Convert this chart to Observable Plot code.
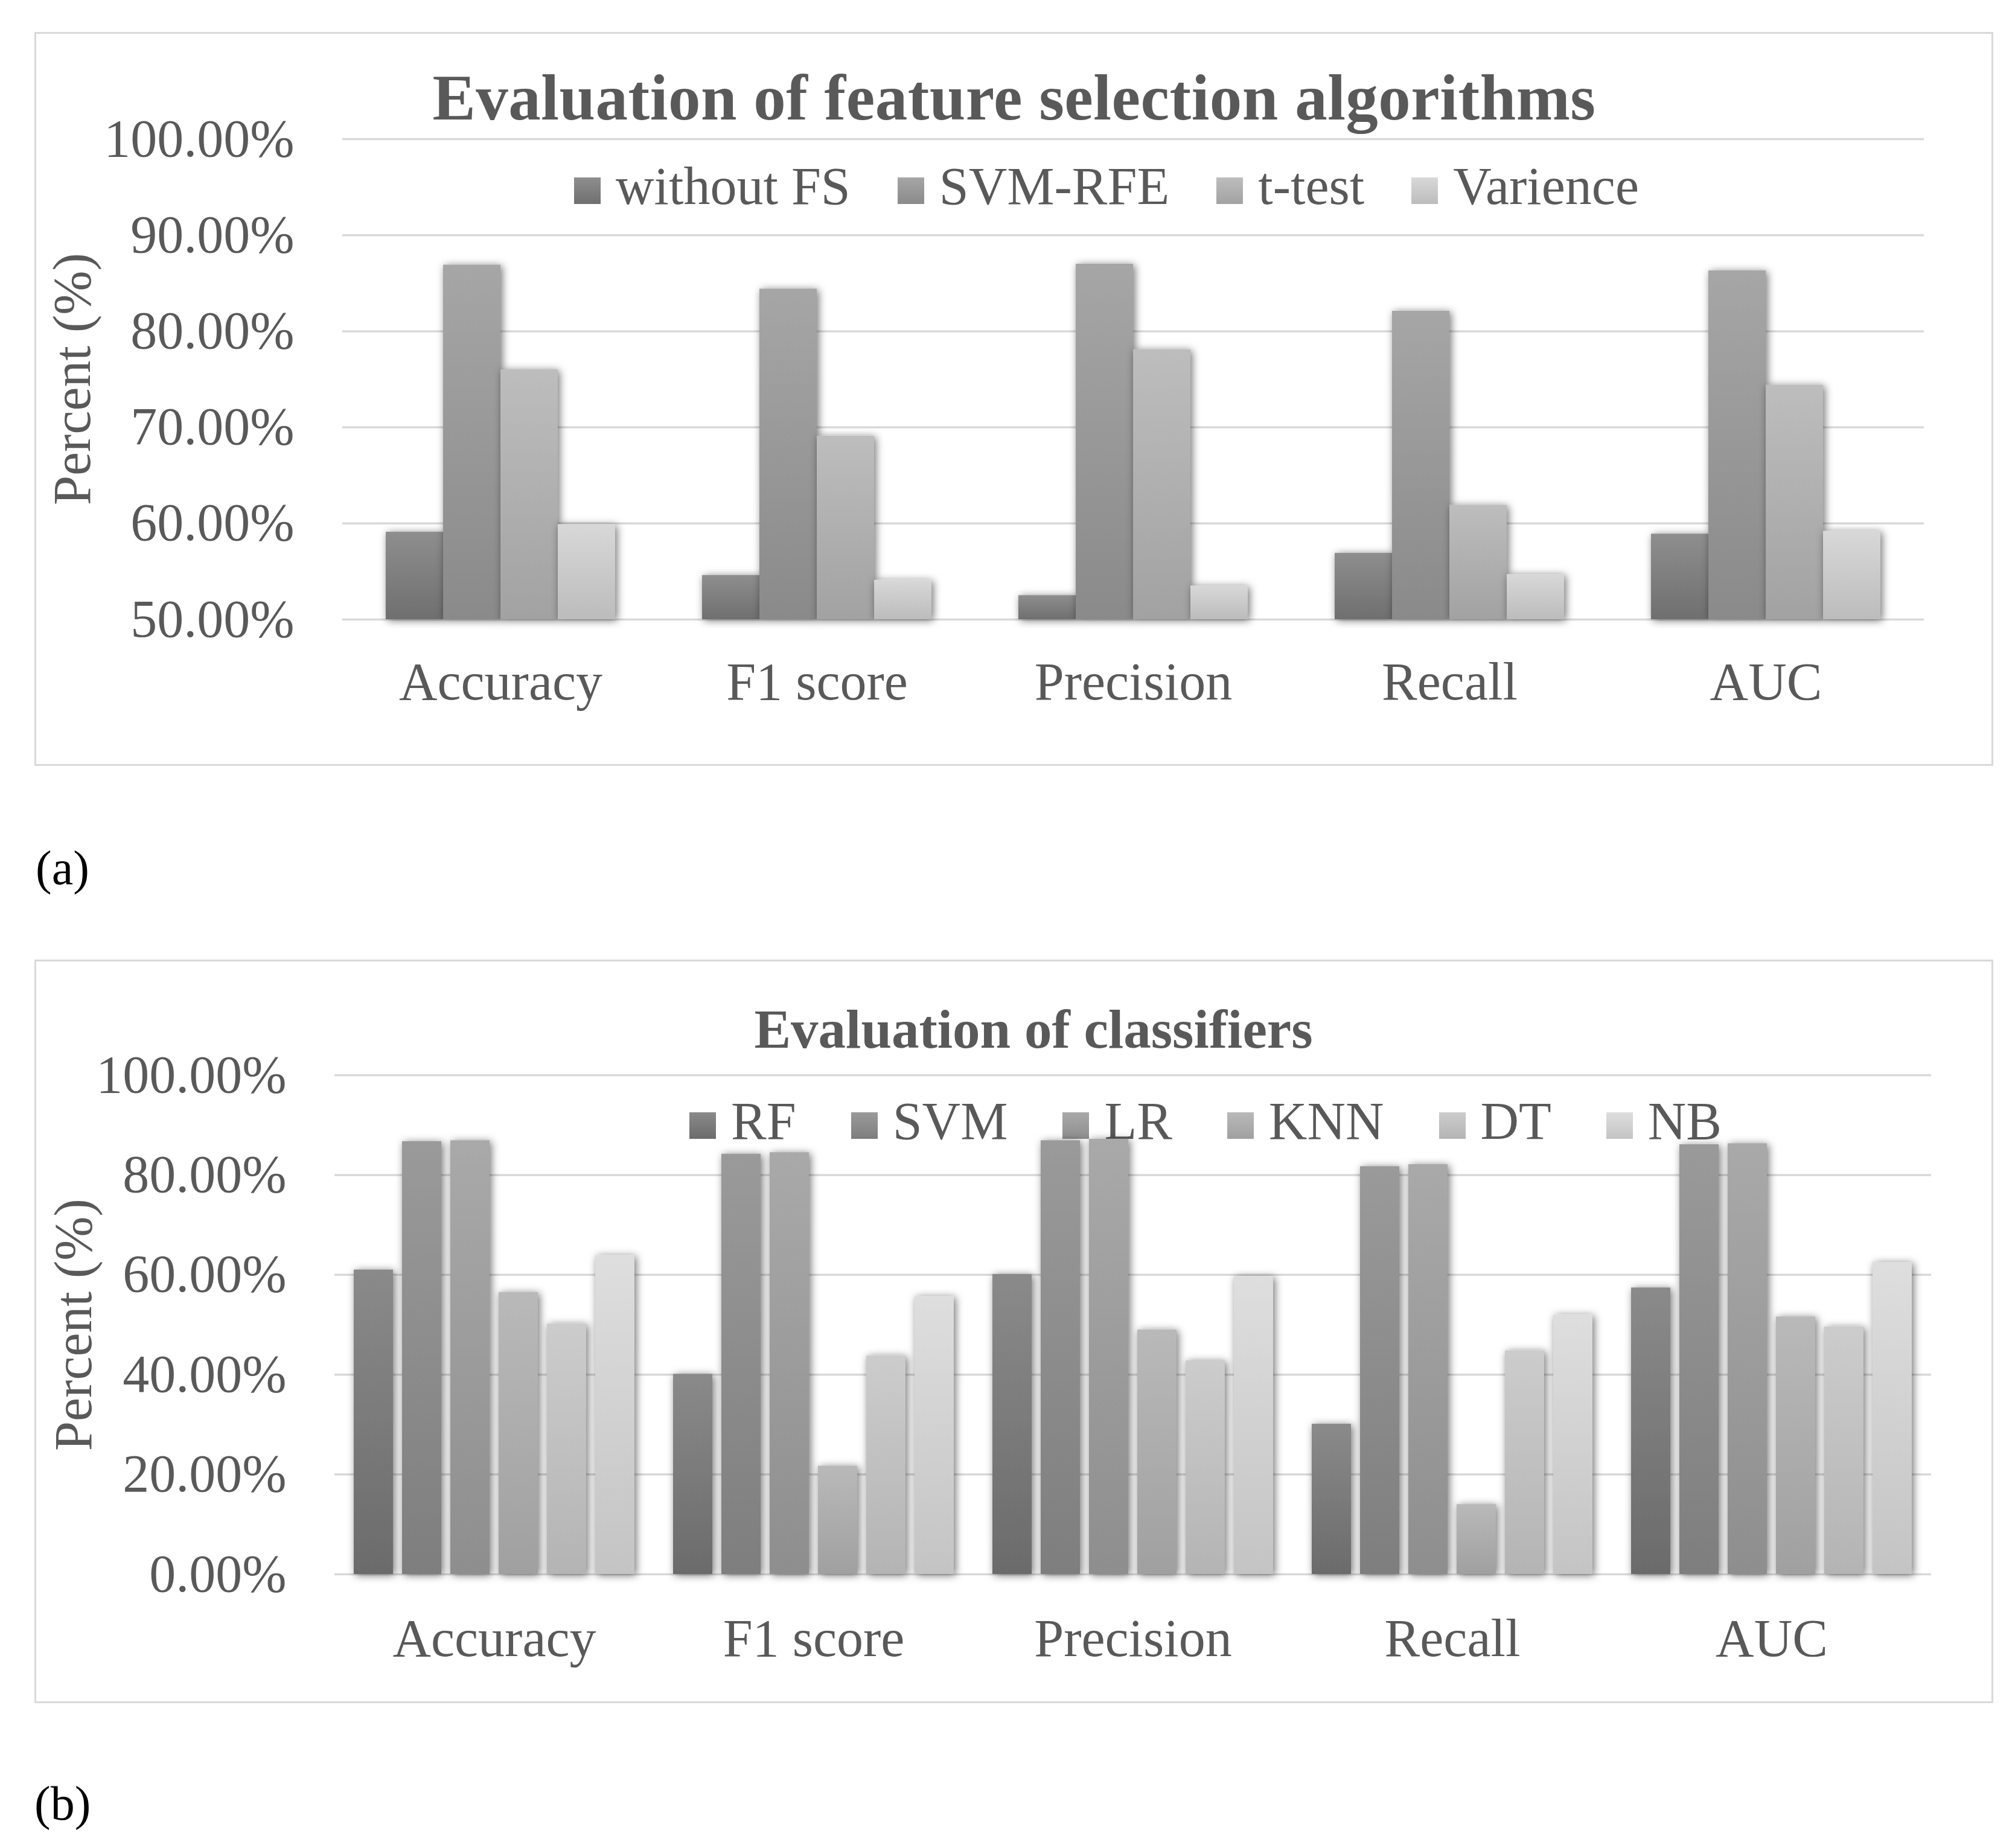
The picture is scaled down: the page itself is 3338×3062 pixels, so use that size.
<!DOCTYPE html>
<html>
<head>
<meta charset="utf-8">
<script src="https://cdn.jsdelivr.net/npm/d3@7"></script>
<script src="https://cdn.jsdelivr.net/npm/@observablehq/plot@0.6"></script>
<style>
  html, body { margin: 0; padding: 0; background: #fff; }
  #page { position: relative; width: 3338px; height: 3062px; background: #fff; overflow: hidden;
          font-family: "Liberation Serif", "Times New Roman", serif; color: #595959; }
  .frame { position: absolute; border: 3px solid #d9d9d9; box-sizing: border-box; }
  .abs { position: absolute; line-height: 1; white-space: nowrap; }
  .title { font-weight: bold; transform: translateX(-50%); }
  .ylab { transform: translate(-50%, -50%) rotate(-90deg); font-size: 88px; }
  .legend { position: absolute; display: flex; align-items: baseline; line-height: 1; font-size: 88px; white-space: nowrap; }
  .item { display: flex; align-items: baseline; }
  .sw { width: 44px; height: 44px; margin-right: 25px; margin-bottom: 4px; align-self: baseline; display: inline-block; }
  .panel { color: #000; font-size: 80px; }
  svg { position: absolute; left: 0; }
</style>
</head>
<body>
<div id="page">
  <div class="frame" style="left:57px; top:53px; width:3245px; height:1216px;"></div>
  <div class="frame" style="left:57px; top:1590px; width:3245px; height:1232px;"></div>
  <div class="abs title" style="left:1680px; top:109px; font-size:107px; letter-spacing:0.5px;">Evaluation of feature selection algorithms</div>
  <div class="abs title" style="left:1712px; top:1660px; font-size:91px;">Evaluation of classifiers</div>
  <div class="abs ylab" style="left:120px; top:628px;">Percent (%)</div>
  <div class="abs ylab" style="left:122px; top:2195px;">Percent (%)</div>
  <div class="abs panel" style="left:59px; top:1398px;">(a)</div>
  <div class="abs panel" style="left:57px; top:2948px;">(b)</div>
  <div class="legend" id="legA" style="left:951px; top:265px; gap:78px;"></div>
  <div class="legend" id="legB" style="left:1142px; top:1814px; gap:91px;"></div>
</div>
<script>
// ---------- data ----------
const metrics = ["Accuracy", "F1 score", "Precision", "Recall", "AUC"];

// (a) feature selection algorithms
const fsMethods = ["without FS", "SVM-RFE", "t-test", "Varience"];
const fsWithout  = [59.1, 54.6, 52.5, 56.9, 58.9];
const fsSvmRfe   = [86.9, 84.4, 87.0, 82.1, 86.3];
const fsTtest    = [76.0, 69.1, 78.1, 61.9, 74.4];
const fsVarience = [59.9, 54.1, 53.5, 54.7, 59.2];
const yTicksA = [50, 60, 70, 80, 90, 100];

// (b) classifiers
const classifiers = ["RF", "SVM", "LR", "KNN", "DT", "NB"];
const clfRF  = [61.0, 40.1, 60.1, 30.1, 57.4];
const clfSVM = [86.7, 84.2, 86.9, 81.7, 86.1];
const clfLR  = [86.9, 84.5, 87.2, 82.1, 86.3];
const clfKNN = [56.5, 21.7, 49.0, 14.0, 51.6];
const clfDT  = [50.2, 43.8, 42.8, 44.8, 49.6];
const clfNB  = [63.9, 55.7, 59.7, 52.0, 62.5];
const yTicksB = [0, 20, 40, 60, 80, 100];

// ---------- styles ----------
const gradA = [["#8e8e8e", "#6f6f6f"], ["#a6a6a6", "#8a8a8a"], ["#bdbdbd", "#a2a2a2"], ["#d8d8d8", "#bcbcbc"]];
const gradB = [["#8a8a8a", "#6b6b6b"], ["#9a9a9a", "#7e7e7e"], ["#a9a9a9", "#8e8e8e"],
               ["#b9b9b9", "#a0a0a0"], ["#cccccc", "#b4b4b4"], ["#dedede", "#c4c4c4"]];

const rowsA = [];
[fsWithout, fsSvmRfe, fsTtest, fsVarience].forEach((vals, i) =>
  vals.forEach((v, j) => rowsA.push({metric: metrics[j], series: fsMethods[i], value: v})));
const rowsB = [];
[clfRF, clfSVM, clfLR, clfKNN, clfDT, clfNB].forEach((vals, i) =>
  vals.forEach((v, j) => rowsB.push({metric: metrics[j], series: classifiers[i], value: v})));

const fmt = d => d.toFixed(2) + "%";

function addDefs(svg, prefix, grads) {
  const defs = d3.select(svg).insert("defs", ":first-child");
  grads.forEach((g, i) => {
    const lg = defs.append("linearGradient").attr("id", prefix + i)
      .attr("x1", 0).attr("y1", 0).attr("x2", 0).attr("y2", 1);
    lg.append("stop").attr("offset", "0%").attr("stop-color", g[0]);
    lg.append("stop").attr("offset", "100%").attr("stop-color", g[1]);
  });
  const f = defs.append("filter").attr("id", prefix + "sh")
    .attr("x", "-10%").attr("y", "-10%").attr("width", "120%").attr("height", "120%");
  f.append("feDropShadow").attr("dx", 3).attr("dy", 2).attr("stdDeviation", 7)
    .attr("flood-color", "#000").attr("flood-opacity", 0.55);
  svg.querySelectorAll('g[aria-label="bar"]').forEach(g => g.setAttribute("filter", `url(#${prefix}sh)`));
}

function chart(rows, series, grads, prefix, cfg) {
  const svg = Plot.plot({
    width: 3338, height: cfg.height,
    marginTop: cfg.mt, marginBottom: cfg.mb, marginLeft: cfg.ml, marginRight: cfg.mr,
    style: {fontFamily: '"Liberation Serif", "Times New Roman", serif', fontSize: "88px", color: "#595959", background: "transparent"},
    fx: {domain: metrics, padding: 0, axis: "bottom", label: null, tickSize: 0, tickPadding: cfg.fxPad},
    x: {domain: series, axis: null, paddingInner: cfg.pi, paddingOuter: cfg.po},
    y: {domain: cfg.domain, clamp: true, ticks: cfg.ticks, tickFormat: fmt, tickSize: 0, tickPadding: 80, label: null},
    marks: [
      Plot.ruleY(cfg.ticks, {stroke: "#d9d9d9", strokeWidth: 3.5}),
      ...series.map((s, i) => Plot.barY(rows.filter(d => d.series === s),
        {fx: "metric", x: "series", y: "value", fill: `url(#${prefix}${i})`}))
    ]
  });
  svg.style.top = cfg.top + "px";
  addDefs(svg, prefix, grads);
  document.getElementById("page").appendChild(svg);
}

chart(rowsA, fsMethods, gradA, "ga", {
  top: 0, height: 1270, mt: 230, mb: 244, ml: 565, mr: 149,
  domain: [50, 100], ticks: yTicksA, pi: 0, po: 0.753, fxPad: 70
});
chart(rowsB, classifiers, gradB, "gb", {
  top: 1560, height: 1270, mt: 221, mb: 222, ml: 553, mr: 138,
  domain: [0, 100], ticks: yTicksB, pi: 0.187, po: 0.394, fxPad: 73
});

function legend(id, names, grads) {
  const el = document.getElementById(id);
  names.forEach((n, i) => {
    const it = document.createElement("div");
    it.className = "item";
    const sw = document.createElement("span");
    sw.className = "sw";
    sw.style.background = `linear-gradient(to bottom, ${grads[i][0]}, ${grads[i][1]})`;
    const t = document.createElement("span");
    t.textContent = n;
    it.appendChild(sw); it.appendChild(t);
    el.appendChild(it);
  });
}
legend("legA", fsMethods, gradA);
legend("legB", classifiers, gradB);
</script>
</body>
</html>
